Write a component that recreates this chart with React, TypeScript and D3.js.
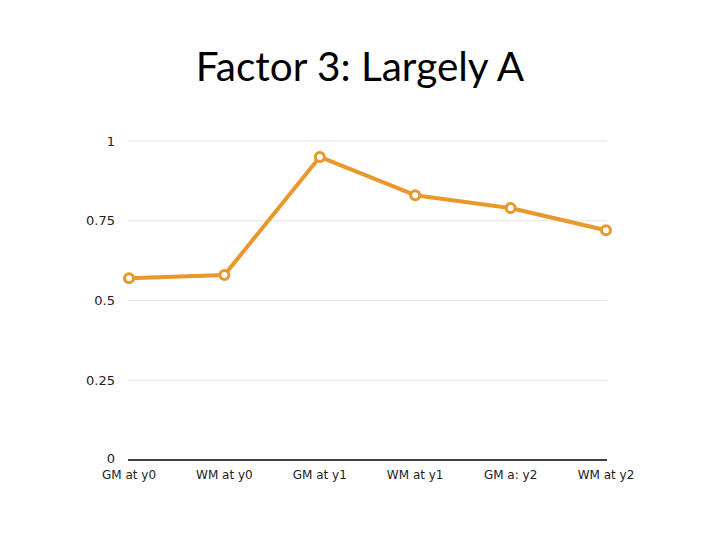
import React from "react";
import * as d3 from "d3";

const categories = ["GM at y0", "WM at y0", "GM at y1", "WM at y1", "GM a: y2", "WM at y2"];
const values = [0.57, 0.58, 0.95, 0.83, 0.79, 0.72];
const yTicks = [0, 0.25, 0.5, 0.75, 1];
const yTickLabels = ["0", "0.25", "0.5", "0.75", "1"];
const title = "Factor 3: Largely A";

export default function App() {
  const W = 720, H = 540;
  const left = 129, right = 606, top = 141, bottom = 460;
  const x = d3.scalePoint<string>().domain(categories).range([left, right]).padding(0);
  const y = d3.scaleLinear().domain([0, 1]).range([bottom, top]);
  const line = d3.line<number>().x((_, i) => x(categories[i])!).y((d) => y(d));
  const color = "#E8982C";
  return (
    <svg width={W} height={H} style={{ position: "absolute", left: 0, top: 0, background: "#fff" }}>
      <text x={360} y={81} textAnchor="middle" fontFamily="Lato, 'Open Sans', sans-serif" fontSize={40.5} fill="#000">{title}</text>
      {yTicks.map((t, i) => (
        <g key={t}>
          {t !== 0 && <line x1={128} x2={607} y1={y(t)} y2={y(t)} stroke="#e4e4e4" strokeWidth={1} />}
          <text x={115} y={y(t) - (t === 0 ? 2 : 0)} dy="0.35em" textAnchor="end" fontFamily="'DejaVu Sans', sans-serif" fontSize={13} fill="#222">{yTickLabels[i]}</text>
        </g>
      ))}
      <line x1={128} x2={607} y1={y(0)} y2={y(0)} stroke="#000" strokeWidth={1.5} />
      {categories.map((c) => (
        <text key={c} x={x(c)} y={475} dy="0.35em" textAnchor="middle" fontFamily="'DejaVu Sans', sans-serif" fontSize={12} fill="#222">{c}</text>
      ))}
      <path d={line(values) || ""} fill="none" stroke={color} strokeWidth={4} strokeLinejoin="round" />
      {values.map((v, i) => (
        <circle key={i} cx={x(categories[i])} cy={y(v)} r={4.5} fill="#fff" stroke={color} strokeWidth={3} />
      ))}
    </svg>
  );
}
